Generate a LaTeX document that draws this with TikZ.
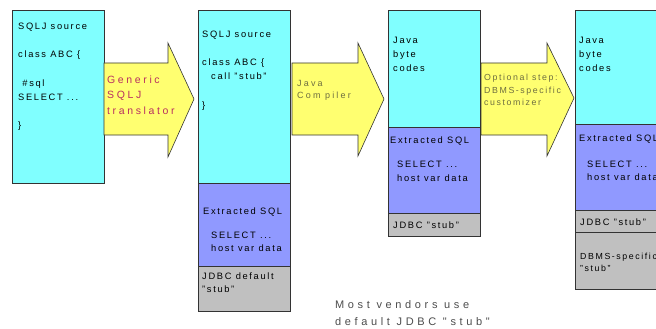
\documentclass[tikz,border=0pt]{standalone}
\usepackage{fontspec}
\setmainfont{Liberation Sans}[LetterSpace=18]
\newfontfamily\arrfont{Liberation Sans}[LetterSpace=24]
\newfontfamily\genfont{Liberation Sans}[LetterSpace=25]
\newfontfamily\notefont{Liberation Sans}[LetterSpace=33]
\definecolor{cy}{HTML}{80FFFF}
\definecolor{pu}{HTML}{9099FF}
\definecolor{gr}{HTML}{C0C0C0}
\definecolor{ye}{HTML}{FFFF70}
\definecolor{crim}{HTML}{B83060}
\definecolor{olv}{HTML}{6E6E40}
\definecolor{edge}{HTML}{333333}
\begin{document}
\begin{tikzpicture}[x=1pt,y=-1pt,
  sec/.style={draw=edge,line width=0.8pt,anchor=north west,inner sep=0pt,minimum width=92pt},
  arr/.style={draw=edge,line width=0.6pt,fill=ye,line join=miter},
  txt/.style={anchor=base west,inner sep=0pt,font=\fontsize{9.3}{11}\selectfont,text=black},
  atxt/.style={txt,text=olv,font=\arrfont\fontsize{9}{10}\selectfont},
  otxt/.style={txt,text=olv,font=\fontsize{8.8}{10}\selectfont},
  gtxt/.style={txt,text=crim,font=\genfont\fontsize{10.5}{12}\selectfont},
  ntxt/.style={txt,text=black!70,font=\notefont\fontsize{11}{13}\selectfont}]
\useasboundingbox (0,0) rectangle (656,329);
% box 1
\node[sec,fill=cy,minimum height=173pt] (b1) at (12,10) {};
\node[txt] (b1a) at (18,30) {SQLJ source};
\node[txt] (b1b) at (18,58) {class ABC \{};
\node[txt] (b1c) at (18,86) {\ \#sql};
\node[txt] (b1d) at (18,100) {SELECT ...};
\node[txt] (b1e) at (18,128) {\}};
% arrow 1
\draw[arr] (104,63) -- (168,63) -- (168,43) -- (194,99) -- (168,157) -- (168,135) -- (104,135) -- cycle;
\node[gtxt] (g1) at (107,84) {Generic};
\node[gtxt] (g2) at (107,99) {SQLJ};
\node[gtxt] (g3) at (107,114) {translator};
% box 2
\node[sec,fill=cy,minimum height=173pt] (b2a) at (198,10) {};
\node[sec,fill=pu,minimum height=83pt] (b2b) at (198,183) {};
\node[sec,fill=gr,minimum height=45pt] (b2c) at (198,266) {};
\node[txt] (t2a) at (202,38) {SQLJ source};
\node[txt] (t2b) at (202,66) {class ABC \{};
\node[txt] (t2c) at (211,80) {call "stub"};
\node[txt] (t2d) at (202,108) {\}};
\node[txt] (t2e) at (203,214) {Extracted SQL};
\node[txt] (t2f) at (211,238) {SELECT ...};
\node[txt] (t2g) at (211,251) {host var data};
\node[txt] (t2h) at (202,279) {JDBC default};
\node[txt] (t2i) at (202,292) {"stub"};
% arrow 2
\draw[arr] (292,63) -- (358,63) -- (358,43) -- (384,99) -- (358,156) -- (358,135) -- (292,135) -- cycle;
\node[atxt] (j1) at (297,86) {Java};
\node[atxt] (j2) at (297,99) {Com piler};
% box 3
\node[sec,fill=cy,minimum height=117pt] (b3a) at (388,10) {};
\node[sec,fill=pu,minimum height=86pt] (b3b) at (388,127) {};
\node[sec,fill=gr,minimum height=23pt] (b3c) at (388,213) {};
\node[txt] (t3a) at (393,44) {Java};
\node[txt] (t3b) at (393,58) {byte};
\node[txt] (t3c) at (393,72) {codes};
\node[txt] (t3d) at (390,143) {Extracted SQL};
\node[txt] (t3e) at (397,167) {SELECT ...};
\node[txt] (t3f) at (397,181) {host var data};
\node[txt] (t3g) at (393,228) {JDBC "stub"};
% arrow 3
\draw[arr] (481,63) -- (547,63) -- (547,43) -- (574,98) -- (547,156) -- (547,135) -- (481,135) -- cycle;
\node[otxt] (o1) at (484,81) {Optional step:};
\node[otxt] (o2) at (484,93) {DBMS-specific};
\node[otxt] (o3) at (484,106) {customizer};
% box 4
\node[sec,fill=cy,minimum height=114pt] (b4a) at (575,10) {};
\node[sec,fill=pu,minimum height=86pt] (b4b) at (575,124) {};
\node[sec,fill=gr,minimum height=22pt] (b4c) at (575,210) {};
\node[sec,fill=gr,minimum height=57pt] (b4d) at (575,232) {};
\node[txt] (t4a) at (579,44) {Java};
\node[txt] (t4b) at (579,58) {byte};
\node[txt] (t4c) at (579,72) {codes};
\node[txt] (t4d) at (579,141) {Extracted SQL};
\node[txt] (t4e) at (587,167) {SELECT ...};
\node[txt] (t4f) at (587,180) {host var data};
\node[txt] (t4g) at (580,225) {JDBC "stub"};
\node[txt,font=\fontsize{8.8}{10}\selectfont] (t4h) at (580,259) {DBMS-specific};
\node[txt,font=\fontsize{8.8}{10}\selectfont] (t4i) at (580,271) {"stub"};
% note
\node[ntxt] (n1) at (335,308) {Most vendors use};
\node[ntxt] (n2) at (335,325) {default JDBC "stub"};
\end{tikzpicture}
\end{document}
